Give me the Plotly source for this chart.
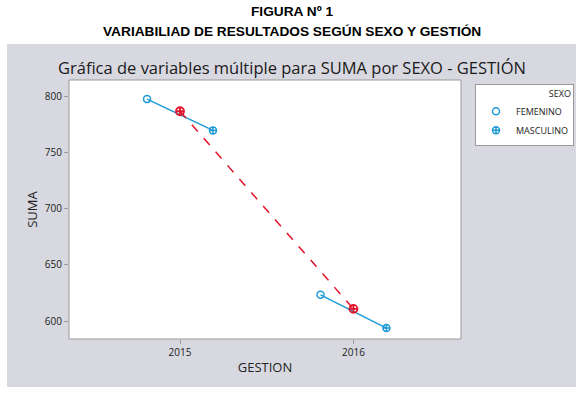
import plotly.graph_objects as go

years = [2015, 2016]
fem = [797.3, 623.3]
masc = [769.5, 593.7]
mean_vals = [786.5, 610.8]
sex_labels = ["FEMENINO", "MASCULINO"]
y_ticks = [600, 650, 700, 750, 800]

dodge = 0.19
blue = "#1E9AD6"
red = "#E2132B"

fig = go.Figure()

# connecting lines within each year
for i, yr in enumerate(years):
    fig.add_trace(go.Scatter(
        x=[yr - dodge, yr + dodge], y=[fem[i], masc[i]],
        mode="lines", line=dict(color=blue, width=1.5),
        showlegend=False, hoverinfo="skip"))

# mean line
fig.add_trace(go.Scatter(
    x=years, y=mean_vals, mode="lines+markers",
    line=dict(color=red, width=1.5, dash="dash"),
    marker=dict(symbol="circle-cross-open", size=8, color=red, line=dict(width=1.8)),
    showlegend=False))

fig.add_trace(go.Scatter(
    x=[y - dodge for y in years], y=fem, mode="markers", name=sex_labels[0],
    marker=dict(symbol="circle-open", size=7, color=blue, line=dict(width=1.5))))
fig.add_trace(go.Scatter(
    x=[y + dodge for y in years], y=masc, mode="markers", name=sex_labels[1],
    marker=dict(symbol="circle-cross-open", size=7, color=blue, line=dict(width=1.5))))

W, H = 583, 393
L, R, T, B = 69, 461, 80, 339  # plot area in page pixels
pw, ph = R - L, B - T

def px(x):
    return (x - L) / pw

def py(y):
    return (B - y) / ph

shapes = [
    dict(type="rect", xref="paper", yref="paper",
         x0=px(7), x1=px(576), y0=py(387), y1=py(44),
         fillcolor="#D8D8E0", line=dict(width=0), layer="below"),
    dict(type="rect", xref="paper", yref="paper",
         x0=0, x1=1, y0=0, y1=1,
         fillcolor="white", line=dict(color="#9A9A9A", width=1), layer="below"),
]

annotations = [
    dict(text="<b>FIGURA Nº 1</b>", xref="paper", yref="paper", x=px(291.5), y=py(11),
         xanchor="center", yanchor="middle", showarrow=False,
         font=dict(family="Liberation Sans", size=13.7, color="black")),
    dict(text="<b>VARIABILIAD DE RESULTADOS SEGÚN SEXO Y GESTIÓN</b>", xref="paper", yref="paper",
         x=px(291.5), y=py(32), xanchor="center", yanchor="middle", showarrow=False,
         font=dict(family="Liberation Sans", size=13.7, color="black")),
    dict(text="Gráfica de variables múltiple para SUMA por SEXO - GESTIÓN", xref="paper", yref="paper",
         x=px(291.5), y=py(67), xanchor="center", yanchor="middle", showarrow=False,
         font=dict(family="Open Sans", size=16.5, color="#1a1a1a")),
]

fig.update_layout(
    width=W, height=H,
    margin=dict(l=L, r=W - R, t=T, b=H - B, autoexpand=False),
    paper_bgcolor="white", plot_bgcolor="rgba(0,0,0,0)",
    shapes=shapes, annotations=annotations,
    font=dict(family="Open Sans", color="#222"),
    legend=dict(
        x=px(475), y=py(84), xanchor="left", yanchor="top",
        bgcolor="white", bordercolor="#9A9A9A", borderwidth=1,
        title=dict(text="SEXO", side="top right", font=dict(size=9)),
        font=dict(size=9), itemwidth=30, tracegroupgap=0),
    xaxis=dict(range=[2014.36, 2016.62], tickvals=years, ticktext=[str(y) for y in years],
               showgrid=False, zeroline=False, ticks="outside", ticklen=4, tickcolor="#9A9A9A",
               tickfont=dict(size=10), title=dict(text="GESTION", font=dict(size=13), standoff=4)),
    yaxis=dict(range=[584, 814.3], tickvals=y_ticks,
               showgrid=False, zeroline=False, ticks="outside", ticklen=4, tickcolor="#9A9A9A",
               tickfont=dict(size=10), title=dict(text="SUMA", font=dict(size=13), standoff=4)),
)

# remove the browser's default 8px body margin so the figure fills the window exactly
fig.write_html("out.html", config={"displayModeBar": False},
               post_script="document.body.style.margin='0';document.body.style.overflow='hidden';")
